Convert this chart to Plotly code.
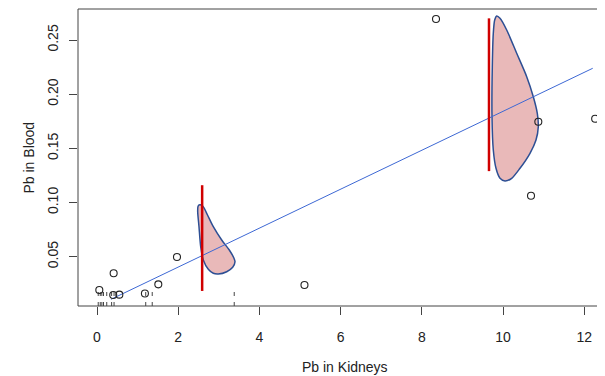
import plotly.graph_objects as go

# ---- data ----
kidney = [8.35, 10.87, 12.27, 10.69, 5.11, 1.97, 1.51, 1.18, 0.41, 0.057, 0.40, 0.55]
blood = [0.2694, 0.1746, 0.1774, 0.1063, 0.0239, 0.0497, 0.0245, 0.0160, 0.0347, 0.0193, 0.0147, 0.0150]

rug_x = [0.03, 0.08, 0.12, 0.16, 0.24, 0.36, 0.42, 1.20, 1.36, 3.38]

fit_intercept = 0.0045
fit_slope = 0.01797
fit_x_range = [0.345, 12.21]

red_x = [2.59, 9.655]
red_lo = [0.0184, 0.129]
red_hi = [0.116, 0.270]

# density outlines (pixel traces from the reference, converted to data units)
px_scale_x, px_x0 = 40.6, 97.0
px_scale_y, px_y0 = 1083.5, 310.9
shape1_px = [(199, 205), (202.7, 206), (206.7, 213.3), (213.3, 226.7), (221.7, 240), (229.3, 250),
             (234, 258.3), (235, 261.7), (232.7, 267.3), (226.7, 271.7), (218.3, 274), (213.3, 273.3),
             (208.3, 269.3), (203.3, 260), (200.7, 246.7), (199, 226.7), (197.7, 211.7), (198, 206.5)]
shape2_px = [(496.7, 16), (500, 18.3), (506.7, 30), (516.7, 53.3), (526.7, 76.7), (533.3, 96.7),
             (537.3, 113.3), (538.3, 126.7), (536, 140), (530, 153.3), (520, 168.3), (511.7, 178.3),
             (505, 181), (500, 178.3), (496, 168.3), (493.3, 150), (492, 116.7), (492.3, 66.7),
             (493.3, 33.3), (494.7, 20)]

x_ticks = [0, 2, 4, 6, 8, 10, 12]
y_ticks = [0.05, 0.10, 0.15, 0.20, 0.25]
y_tick_text = ["0.05", "0.10", "0.15", "0.20", "0.25"]


def to_data(pts):
    xs = [(p[0] - px_x0) / px_scale_x for p in pts]
    ys = [(px_y0 - p[1]) / px_scale_y for p in pts]
    return xs + [xs[0]], ys + [ys[0]]


# page body has an 8px margin: figure occupies window pixels 8..605 / 8..376
OFF = 8
W, H = 605 - OFF, 376 - OFF
L, T, B = 78 - OFF, 9 - OFF, H - (306 - OFF)
PW, PH = W - L, H - T - B
X0 = (78 - px_x0) / px_scale_x
X1 = (605 - px_x0) / px_scale_x
Y1 = (px_y0 - 9) / px_scale_y
Y0 = (px_y0 - 306) / px_scale_y

fig = go.Figure()

for pts in (shape1_px, shape2_px):
    sx, sy = to_data(pts)
    fig.add_trace(go.Scatter(x=sx, y=sy, mode="lines", fill="toself",
                             fillcolor="#e9b9b9",
                             line=dict(color="#2d4f94", width=1.5, shape="spline", smoothing=0.8),
                             hoverinfo="skip", showlegend=False))

fit_y = [fit_intercept + fit_slope * v for v in fit_x_range]
fig.add_trace(go.Scatter(x=fit_x_range, y=fit_y, mode="lines",
                         line=dict(color="#3d68d4", width=1), showlegend=False))

rx, ry = [], []
for xv, lo, hi in zip(red_x, red_lo, red_hi):
    rx += [xv, xv, None]
    ry += [lo, hi, None]
fig.add_trace(go.Scatter(x=rx, y=ry, mode="lines", line=dict(color="#d00000", width=2.5),
                         showlegend=False))

rug_len = 14 / px_scale_y
ux, uy = [], []
for xv in rug_x:
    ux += [xv, xv, None]
    uy += [Y0, Y0 + rug_len, None]
fig.add_trace(go.Scatter(x=ux, y=uy, mode="lines",
                         line=dict(color="#444444", width=1, dash="4px,6px"), showlegend=False))

fig.add_trace(go.Scatter(x=kidney, y=blood, mode="markers",
                         marker=dict(symbol="circle-open", size=7, color="#222222",
                                     line=dict(width=1.1, color="#222222")),
                         showlegend=False))

axis_font = dict(family="Liberation Sans, Arial, sans-serif", size=14, color="#222222")

fig.update_layout(
    width=W, height=H,
    margin=dict(l=L, r=0, t=T, b=B, pad=0, autoexpand=False),
    paper_bgcolor="white", plot_bgcolor="white",
    font=axis_font,
    xaxis=dict(range=[X0, X1], tickvals=x_ticks, ticks="outside", ticklen=8, tickwidth=1,
               tickcolor="#444444", showgrid=False, zeroline=False, showline=False,
               tickfont=axis_font, automargin=False, ticklabelstandoff=10),
    yaxis=dict(range=[Y0, Y1], tickvals=y_ticks, ticktext=y_tick_text, ticks="outside",
               ticklen=8, tickwidth=1, tickcolor="#444444", showgrid=False, zeroline=False,
               showline=False, tickangle=-90, tickfont=axis_font, automargin=False,
               ticklabelstandoff=5),
    shapes=[
        dict(type="line", xref="paper", yref="paper", x0=0, x1=1, y0=0, y1=0,
             line=dict(color="#444444", width=1)),
        dict(type="line", xref="paper", yref="paper", x0=0, x1=1, y0=1, y1=1,
             line=dict(color="#444444", width=1)),
        dict(type="line", xref="paper", yref="paper", x0=0, x1=0, y0=0, y1=1,
             line=dict(color="#444444", width=1)),
    ],
    annotations=[
        dict(text="Pb in Kidneys", xref="paper", yref="paper", x=(345 - 78) / PW,
             y=-(367 - 306) / PH, showarrow=False, xanchor="center", yanchor="middle",
             font=axis_font),
        dict(text="Pb in Blood", xref="paper", yref="paper", x=-(78 - 28) / PW, y=0.5,
             showarrow=False, xanchor="center", yanchor="middle", textangle=-90, font=axis_font),
    ],
)

fig.write_html("out.html")
